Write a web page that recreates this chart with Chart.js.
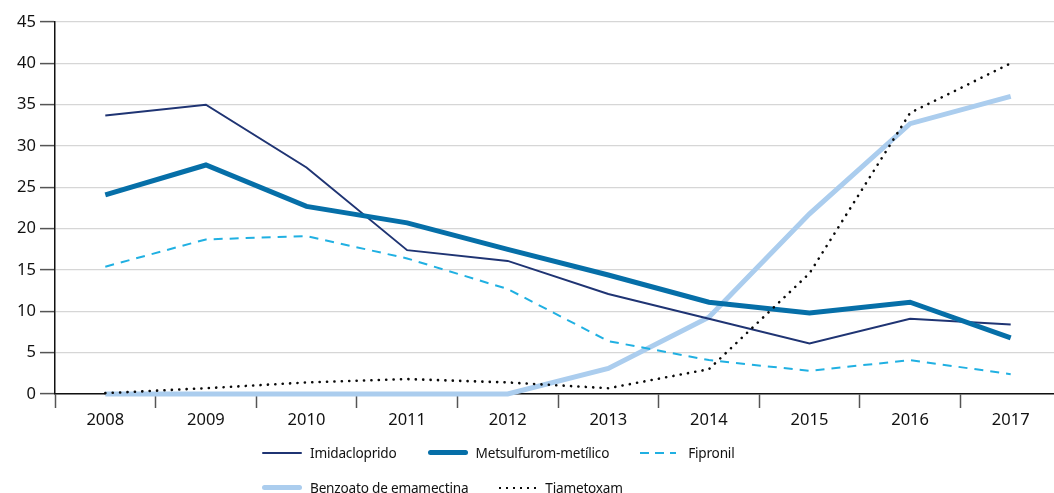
<!DOCTYPE html>
<html>
<head>
<meta charset="utf-8">
<script src="https://cdn.jsdelivr.net/npm/chart.js@4.4.1/dist/chart.umd.min.js"></script>
<style>
  html, body { margin: 0; padding: 0; background: #fff; overflow: hidden; }
  #wrap { position: relative; width: 1054px; height: 493px; overflow: hidden; }
  #box { position: absolute; left: 0; top: 0; width: 1064px; height: 440px; }
  #legend { position: absolute; left: 262px; top: 435px; font-family: "Noto Sans", sans-serif; font-size: 13.6px; letter-spacing: -0.2px; color: #111; }
  .row { display: flex; align-items: center; height: 35px; }
  .item { display: flex; align-items: center; margin-right: 31px; }
  .sample { width: 40px; margin-right: 8px; }
</style>
</head>
<body>
<div id="wrap">
  <div id="box"><canvas id="chart1"></canvas></div>
  <div id="legend"></div>
</div>
<script>
const years = ["2008", "2009", "2010", "2011", "2012", "2013", "2014", "2015", "2016", "2017"];

const imidacloprido = [33.7, 35.0, 27.4, 17.4, 16.1, 12.1, 9.1, 6.1, 9.1, 8.4];
const metsulfurom = [24.1, 27.7, 22.7, 20.7, 17.5, 14.4, 11.1, 9.8, 11.1, 6.8];
const fipronil = [15.4, 18.7, 19.1, 16.4, 12.7, 6.4, 4.1, 2.8, 4.1, 2.4];
const benzoato = [0, 0, 0, 0, 0, 3.1, 9.3, 21.8, 32.7, 36.0];
const tiametoxam = [0.1, 0.7, 1.4, 1.8, 1.4, 0.7, 3.0, 14.6, 34.0, 40.0];

const yTicks = [0, 5, 10, 15, 20, 25, 30, 35, 40, 45];

const font = { family: "Noto Sans", size: 16.5 };

const makeLine = function (label, values, color, width, dash, order) {
  let inside = new Object();
  inside.label = label;
  inside.data = values;
  inside.borderColor = color;
  inside.backgroundColor = color;
  inside.borderWidth = width;
  inside.borderDash = dash;
  inside.pointRadius = 0;
  inside.tension = 0;
  inside.clip = false;
  inside.order = order;
  return inside;
};

const datasets = [
  makeLine("Imidacloprido", imidacloprido, "rgb(31,52,115)", 2, [], 4),
  makeLine("Metsulfurom-metílico", metsulfurom, "rgb(6,111,168)", 5, [], 2),
  makeLine("Fipronil", fipronil, "rgb(32,176,226)", 2, [9, 7], 3),
  makeLine("Benzoato de emamectina", benzoato, "rgb(171,205,238)", 5, [], 5),
  makeLine("Tiametoxam", tiametoxam, "rgb(10,10,10)", 2.6, [0.1, 7.3], 1),
];
datasets[4].borderCapStyle = "round";

const config = {
  type: "line",
  data: { labels: years, datasets: datasets },
  options: {
    responsive: false,
    animation: false,
    devicePixelRatio: 1,
    layout: { padding: { top: 22, right: 3, left: 0, bottom: 0 } },
    plugins: { legend: { display: false }, tooltip: { enabled: false } },
    scales: {
      x: {
        offset: true,
        grid: {
          offset: true,
          drawOnChartArea: false,
          drawTicks: true,
          tickLength: 14,
          tickColor: "#555",
          tickWidth: 1.5,
        },
        border: { color: "#111", width: 1.5 },
        ticks: { color: "#111", font: font, padding: 2, maxRotation: 0 },
        afterFit: (scale) => { scale.height = 46; },
      },
      y: {
        min: 0,
        max: 45,
        afterBuildTicks: (scale) => { scale.ticks = yTicks.map((v) => ({ value: v })); },
        grid: {
          color: "#d6d6d6",
          lineWidth: 1.2,
          drawTicks: true,
          tickLength: 15,
          tickColor: "#555",
          tickWidth: 1.5,
        },
        border: { color: "#111", width: 1.5 },
        ticks: { color: "#111", font: font, padding: 4 },
        afterFit: (scale) => { scale.width = 55; },
      },
    },
  },
};

const canvas = document.getElementById("chart1");
canvas.width = 1064;
canvas.height = 440;
const chart = new Chart(canvas, config);

// legend rows like the original figure
const rows = [[0, 1, 2], [3, 4]];
const legend = document.getElementById("legend");
rows.forEach((r) => {
  const row = document.createElement("div");
  row.className = "row";
  r.forEach((i) => {
    const d = datasets[i];
    const item = document.createElement("div");
    item.className = "item";
    const s = document.createElement("div");
    s.className = "sample";
    const c = d.borderColor;
    if (d.borderDash.length && d.borderDash[0] > 1) {
      s.style.height = "2px";
      s.style.background = "repeating-linear-gradient(90deg," + c + " 0 9px, transparent 9px 15px)";
      s.style.width = "36px";
      s.style.marginRight = "12px";
    } else if (d.borderDash.length) {
      s.style.height = "2px";
      s.style.background = "repeating-linear-gradient(90deg," + c + " 0 2px, transparent 2px 7px)";
      s.style.width = "38px";
    } else {
      s.style.height = d.borderWidth + "px";
      s.style.background = c;
      s.style.borderRadius = "3px";
    }
    const t = document.createElement("span");
    t.textContent = d.label;
    item.appendChild(s);
    item.appendChild(t);
    row.appendChild(item);
  });
  legend.appendChild(row);
});
</script>
</body>
</html>
